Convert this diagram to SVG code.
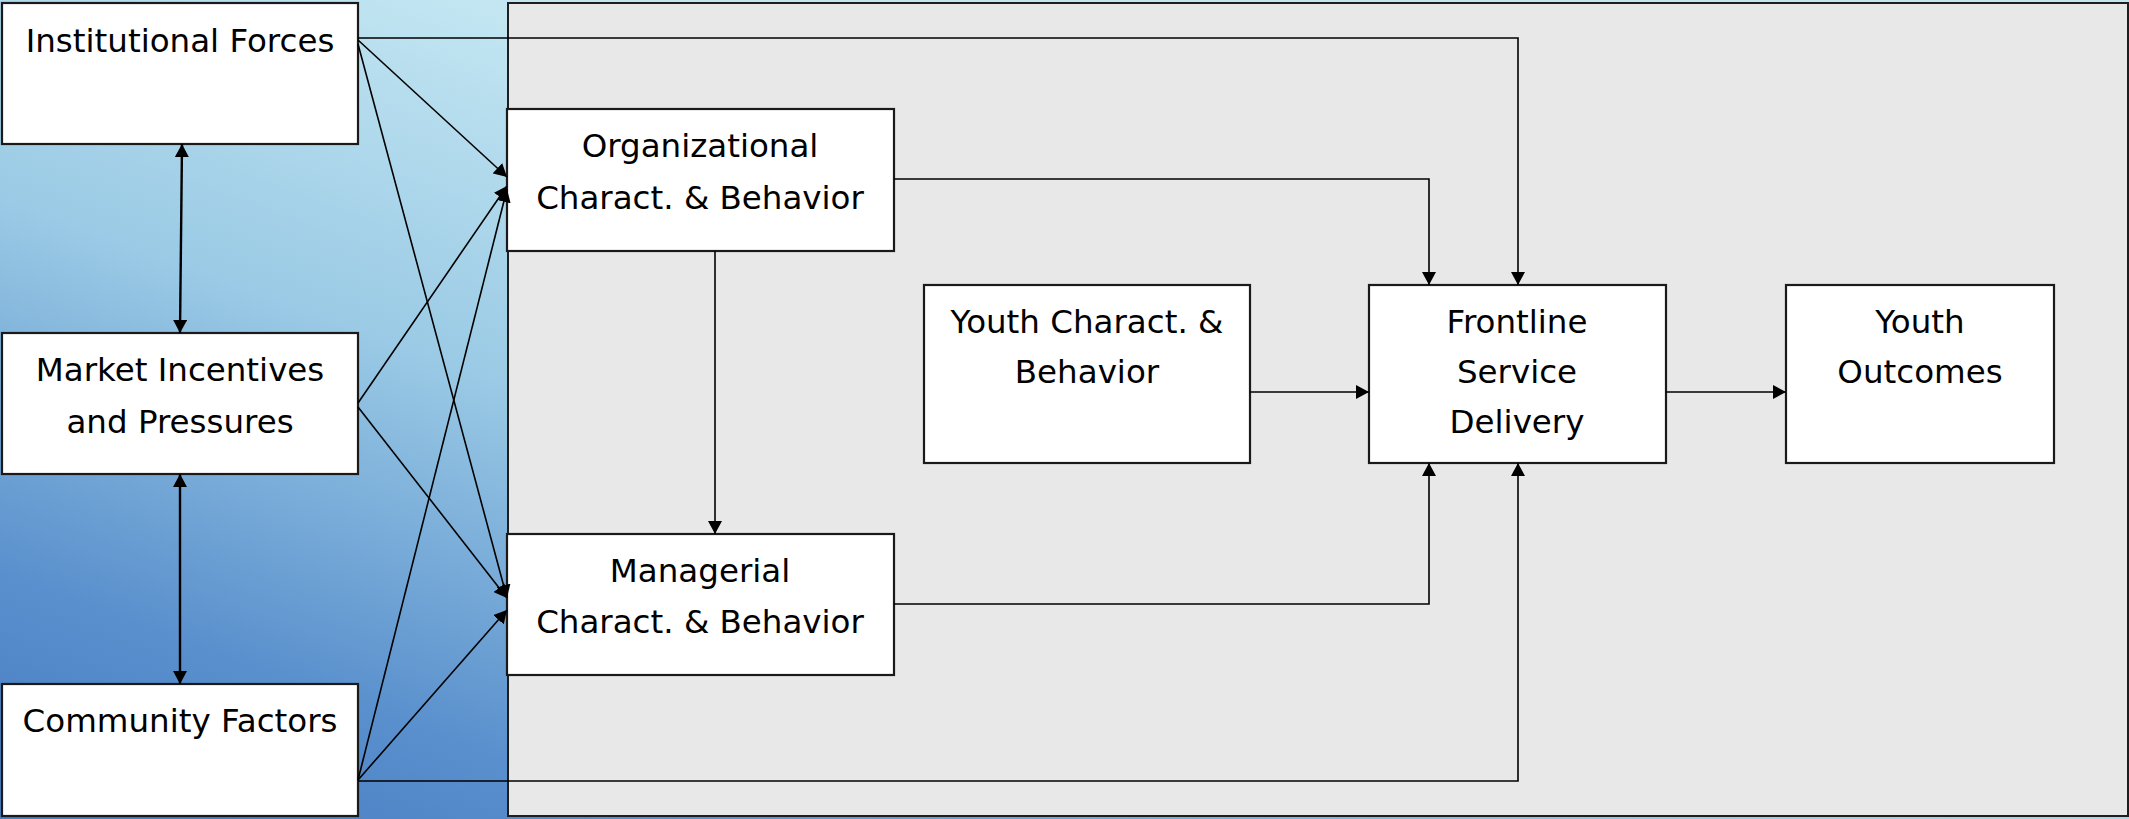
<svg xmlns="http://www.w3.org/2000/svg" width="2129" height="819" viewBox="0 0 2129 819">
  <defs>
    <linearGradient id="bg" gradientUnits="userSpaceOnUse" x1="470" y1="0" x2="170" y2="819">
      <stop offset="0" stop-color="#c3e6f2"/>
      <stop offset="0.4" stop-color="#9acae5"/>
      <stop offset="0.8" stop-color="#5a90cd"/>
      <stop offset="1" stop-color="#4a80c4"/>
    </linearGradient>
    <marker id="ah" viewBox="0 0 13 14" markerWidth="13" markerHeight="14" refX="13" refY="7" markerUnits="userSpaceOnUse" orient="auto-start-reverse">
      <path d="M0,0 L13,7 L0,14 z" fill="#000"/>
    </marker>
    <style>
      .box { fill: #ffffff; stroke: #1a1a1a; stroke-width: 2.2; }
      .lbl { font-family: "DejaVu Sans", "Liberation Sans", sans-serif; font-size: 32.5px; fill: #000; text-anchor: middle; }
      .con { fill: none; stroke: #000; stroke-width: 1.6; }
      .con2 { fill: none; stroke: #000; stroke-width: 2.4; }
    </style>
  </defs>

  <rect x="0" y="0" width="2129" height="819" fill="url(#bg)"/>
  <rect id="panel" x="508" y="3" width="1620" height="813" fill="#e8e8e8" stroke="#1e1e1e" stroke-width="2"/>

  <g id="institutional">
    <rect class="box" x="2" y="3" width="356" height="141"/>
    <text class="lbl" x="180" y="52">Institutional Forces</text>
  </g>
  <g id="market">
    <rect class="box" x="2" y="333" width="356" height="141"/>
    <text class="lbl" x="180" y="381">Market Incentives</text>
    <text class="lbl" x="180" y="433">and Pressures</text>
  </g>
  <g id="community">
    <rect class="box" x="2" y="684" width="356" height="132"/>
    <text class="lbl" x="180" y="732">Community Factors</text>
  </g>
  <g id="organizational">
    <rect class="box" x="507" y="109" width="387" height="142"/>
    <text class="lbl" x="700" y="157">Organizational</text>
    <text class="lbl" x="700" y="209">Charact. &amp; Behavior</text>
  </g>
  <g id="managerial">
    <rect class="box" x="507" y="534" width="387" height="141"/>
    <text class="lbl" x="700" y="582">Managerial</text>
    <text class="lbl" x="700" y="633">Charact. &amp; Behavior</text>
  </g>
  <g id="youth-charact">
    <rect class="box" x="924" y="285" width="326" height="178"/>
    <text class="lbl" x="1087" y="333">Youth Charact. &amp;</text>
    <text class="lbl" x="1087" y="383">Behavior</text>
  </g>
  <g id="frontline">
    <rect class="box" x="1369" y="285" width="297" height="178"/>
    <text class="lbl" x="1517" y="333">Frontline</text>
    <text class="lbl" x="1517" y="383">Service</text>
    <text class="lbl" x="1517" y="433">Delivery</text>
  </g>
  <g id="youth-outcomes">
    <rect class="box" x="1786" y="285" width="268" height="178"/>
    <text class="lbl" x="1920" y="333">Youth</text>
    <text class="lbl" x="1920" y="383">Outcomes</text>
  </g>

  <g id="connectors">
    <line class="con" x1="358" y1="40" x2="507" y2="177" marker-end="url(#ah)"/>
    <line class="con" x1="358" y1="44" x2="507" y2="598" marker-end="url(#ah)"/>
    <line class="con" x1="358" y1="403" x2="507" y2="186" marker-end="url(#ah)"/>
    <line class="con" x1="358" y1="407" x2="507" y2="598" marker-end="url(#ah)"/>
    <line class="con" x1="358" y1="780" x2="507" y2="189" marker-end="url(#ah)"/>
    <line class="con" x1="358" y1="780" x2="507" y2="610" marker-end="url(#ah)"/>
    <polyline class="con" points="358,38 1518,38 1518,285" marker-end="url(#ah)"/>
    <polyline class="con" points="894,179 1429,179 1429,285" marker-end="url(#ah)"/>
    <line class="con" x1="715" y1="251" x2="715" y2="534" marker-end="url(#ah)"/>
    <polyline class="con" points="894,604 1429,604 1429,463" marker-end="url(#ah)"/>
    <polyline class="con" points="358,781 1518,781 1518,463" marker-end="url(#ah)"/>
    <line class="con" x1="1250" y1="392" x2="1369" y2="392" marker-end="url(#ah)"/>
    <line class="con" x1="1666" y1="392" x2="1786" y2="392" marker-end="url(#ah)"/>
    <line class="con2" x1="182" y1="144" x2="180" y2="333" marker-start="url(#ah)" marker-end="url(#ah)"/>
    <line class="con2" x1="180" y1="474" x2="180" y2="684" marker-start="url(#ah)" marker-end="url(#ah)"/>
  </g>
</svg>
